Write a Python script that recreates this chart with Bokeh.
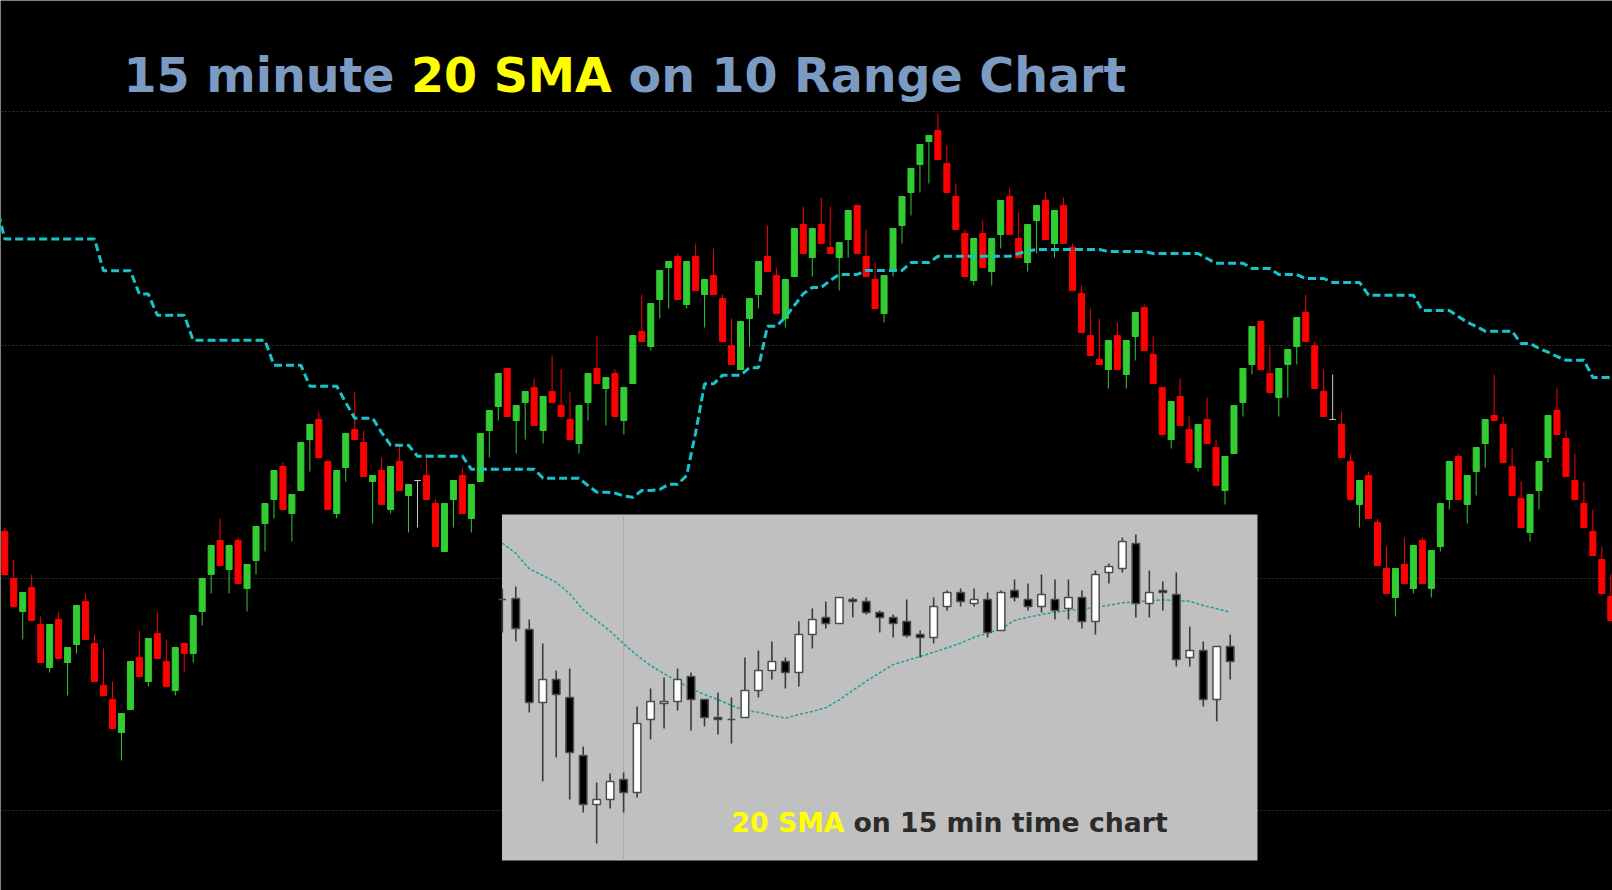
import numpy as np
from bokeh.plotting import figure
from bokeh.models import Range1d, Grid, FixedTicker, ColumnDataSource
from bokeh.core.properties import value
from bokeh.embed import file_html
from bokeh.resources import INLINE

# ---------------- main 10-range chart (bar index 0..179) ----------------
main_open = [
    469, 422, 389, 413, 376, 333, 381, 338, 356, 399,
    357, 315, 301, 268, 291, 343, 319, 367, 339, 310,
    357, 347, 389, 426, 460, 431, 460, 412, 440, 477,
    501, 534, 487, 510, 561, 581, 539, 487, 533, 571,
    558, 519, 530, 491, 539, 505, 520, 525, 497, 449,
    501, 525, 482, 519, 570, 594, 632, 580, 598, 613,
    570, 609, 595, 581, 557, 598, 632, 612, 627, 580,
    617, 669, 654, 701, 733, 744, 696, 744, 706, 725,
    702, 655, 631, 682, 706, 744, 725, 682, 724, 776,
    743, 776, 753, 743, 761, 795, 744, 721, 687, 729,
    775, 808, 836, 859, 870, 837, 804, 767, 720, 767,
    729, 766, 804, 762, 738, 780, 800, 757, 795, 753,
    707, 665, 641, 631, 665, 626, 664, 693, 646, 613,
    561, 604, 571, 533, 581, 553, 510, 547, 598, 636,
    679, 627, 603, 636, 654, 688, 655, 609, 581, 576,
    539, 496, 525, 478, 432, 403, 436, 412, 460, 412,
    454, 501, 544, 496, 529, 557, 585, 576, 534, 502,
    468, 510, 543, 590, 562, 520, 497, 469, 441, 404,
]
main_high = [
    473, 440, 408, 426, 384, 376, 389, 353, 395, 407,
    366, 352, 319, 287, 339, 370, 362, 389, 361, 353,
    357, 385, 422, 455, 482, 455, 463, 436, 474, 497,
    530, 538, 506, 558, 576, 589, 539, 530, 567, 608,
    570, 525, 543, 534, 556, 516, 520, 547, 501, 497,
    520, 533, 516, 567, 590, 627, 632, 595, 609, 622,
    604, 645, 631, 608, 595, 627, 664, 623, 631, 613,
    665, 706, 697, 730, 739, 747, 739, 757, 721, 752,
    706, 682, 679, 702, 739, 775, 733, 721, 772, 794,
    772, 803, 794, 758, 790, 795, 771, 738, 725, 772,
    804, 832, 856, 865, 887, 855, 817, 771, 762, 780,
    762, 800, 813, 789, 776, 795, 808, 790, 803, 757,
    715, 692, 682, 660, 678, 660, 688, 696, 664, 613,
    599, 622, 584, 576, 603, 561, 544, 595, 632, 674,
    679, 654, 632, 651, 683, 706, 659, 631, 626, 589,
    547, 520, 529, 482, 454, 432, 463, 455, 463, 450,
    497, 539, 547, 525, 553, 581, 626, 584, 552, 519,
    506, 539, 585, 612, 570, 547, 519, 491, 454, 426,
]
main_low = [
    426, 394, 361, 380, 338, 328, 342, 305, 347, 361,
    319, 305, 272, 240, 291, 324, 314, 342, 314, 305,
    328, 338, 375, 407, 435, 407, 417, 389, 426, 449,
    482, 491, 459, 510, 529, 543, 491, 482, 519, 561,
    524, 477, 496, 487, 510, 468, 473, 501, 454, 449,
    473, 487, 468, 519, 543, 580, 584, 547, 561, 575,
    557, 598, 584, 561, 547, 580, 617, 575, 584, 566,
    617, 659, 650, 682, 692, 701, 692, 710, 673, 706,
    659, 636, 631, 654, 692, 729, 687, 673, 724, 747,
    724, 757, 747, 710, 743, 747, 724, 692, 678, 724,
    757, 785, 808, 817, 841, 808, 771, 724, 715, 733,
    715, 752, 766, 743, 729, 747, 761, 743, 757, 710,
    668, 645, 636, 612, 631, 612, 640, 650, 617, 566,
    552, 575, 538, 529, 557, 515, 496, 547, 584, 626,
    631, 608, 584, 603, 636, 659, 612, 584, 581, 543,
    501, 473, 482, 435, 407, 384, 417, 407, 417, 403,
    449, 491, 501, 477, 505, 533, 580, 538, 505, 473,
    459, 491, 538, 566, 524, 501, 473, 445, 407, 380,
]
main_close = [
    426, 394, 408, 380, 338, 376, 342, 353, 395, 361,
    319, 305, 272, 287, 339, 324, 362, 342, 314, 353,
    347, 385, 422, 455, 435, 455, 417, 436, 474, 497,
    530, 491, 506, 558, 576, 543, 491, 530, 567, 561,
    524, 525, 496, 534, 510, 516, 520, 501, 454, 497,
    520, 487, 516, 567, 590, 627, 584, 595, 609, 575,
    604, 598, 584, 561, 595, 627, 617, 623, 584, 613,
    665, 659, 697, 730, 739, 701, 739, 710, 721, 706,
    659, 636, 679, 702, 739, 729, 687, 721, 772, 747,
    772, 757, 747, 758, 790, 747, 724, 692, 725, 772,
    804, 832, 856, 865, 841, 808, 771, 724, 762, 733,
    762, 800, 766, 743, 776, 795, 761, 790, 757, 710,
    668, 645, 636, 660, 631, 660, 688, 650, 617, 566,
    599, 575, 538, 576, 557, 515, 544, 595, 632, 674,
    631, 608, 632, 651, 683, 659, 612, 584, 581, 543,
    501, 520, 482, 435, 407, 432, 417, 455, 417, 450,
    497, 539, 501, 525, 553, 581, 580, 538, 505, 473,
    506, 539, 585, 566, 524, 501, 473, 445, 407, 380,
]
# 15-minute 20 SMA projected on the range bars, from bar -1 to bar 179
sma_first_bar = -1
sma20 = [
    798,
    761.5, 761.5, 761.5, 761.5, 761.5, 761.5, 761.5, 761.5, 761.5, 761.5, 761.5,
    729.7, 729.7, 729.7, 729.7,
    706.4, 706.4,
    685.3, 685.3, 685.3, 685.3,
    660.2, 660.2, 660.2, 660.2, 660.2, 660.2, 660.2, 660.2, 660.2,
    635.3, 635.3, 635.3, 635.3,
    614.3, 614.3, 614.3, 614.3,
    598,
    582.3, 582.3, 582.3,
    568,
    555.3, 555.3, 555.3,
    544.3, 544.3, 544.3, 544.3, 544.3, 544.3,
    531.3, 531.3, 531.3, 531.3, 531.3, 531.3, 531.3, 531.3,
    522.3, 522.3, 522.3, 522.3, 522.3,
    515,
    508.3, 508.3,
    507.5, 504.5, 503.3,
    510, 510,
    511,
    516.3, 516.3,
    525, 568,
    616.7, 616.7,
    625.3, 625.3, 625.3,
    632.7, 632.7,
    674.3, 674.3,
    683.3, 695, 706.7,
    713, 713,
    720,
    726, 726, 726,
    730, 730, 730, 730, 730,
    738, 738, 738,
    744.3, 744.3, 744.3, 744.3, 744.3, 744.3, 744.3, 744.3, 744.3,
    747, 749.5,
    751, 751, 751, 751, 751, 751, 751, 751,
    749, 749, 749, 749, 749,
    747, 747, 747, 747, 747, 747,
    742,
    737.3, 737.3, 737.3, 737.3,
    732, 732, 732,
    726, 726, 726,
    722, 722, 722,
    718, 718, 718, 718,
    705.3, 705.3, 705.3, 705.3, 705.3, 705.3,
    690, 690, 690, 690,
    684, 678.3, 674,
    669.3, 669.3, 669.3, 669.3,
    657, 657,
    652, 648.3, 644,
    640.3, 640.3, 640.3,
    623, 623, 623,
]
grid_levels = [190, 422, 655, 889]

# ---------------- inset: 15 min time chart (bar index 0..54) ----------------
inset_open = [
    401, 402, 371, 298, 321, 303, 245, 196, 201, 221,
    208, 281, 297, 299, 324, 301, 283, 281, 283, 310,
    330, 339, 328, 366, 383, 377, 401, 399, 388, 383,
    379, 366, 363, 394, 408, 397, 401, 370, 410, 401,
    394, 401, 392, 403, 379, 428, 432, 457, 397, 410,
    406, 343, 350, 301, 354,
]
inset_high = [
    412, 414, 381, 357, 330, 332, 254, 218, 227, 228,
    294, 312, 323, 332, 328, 301, 308, 303, 343, 350,
    359, 343, 379, 392, 399, 403, 403, 403, 390, 386,
    401, 370, 403, 410, 412, 412, 408, 410, 421, 417,
    426, 421, 421, 410, 430, 437, 463, 466, 430, 419,
    428, 374, 359, 354, 366,
]
inset_low = [
    368, 359, 288, 219, 243, 201, 188, 157, 192, 188,
    203, 261, 272, 290, 270, 274, 266, 257, 283, 303,
    321, 312, 314, 352, 372, 377, 383, 386, 368, 363,
    363, 343, 357, 390, 394, 394, 363, 370, 399, 390,
    388, 381, 381, 372, 366, 417, 428, 383, 383, 390,
    334, 334, 294, 279, 321,
]
inset_close = [
    401, 372, 298, 321, 306, 248, 196, 201, 219, 208,
    277, 299, 299, 321, 301, 283, 281, 281, 310, 330,
    339, 328, 366, 381, 377, 403, 399, 388, 383, 377,
    365, 363, 394, 408, 399, 401, 368, 408, 403, 394,
    406, 390, 403, 379, 426, 434, 459, 397, 408, 408,
    341, 350, 301, 354, 339,
]
inset_sma20 = [
    457.3, 447.3, 431.7, 425, 418.3, 406.7, 390.7, 380, 369.3, 356.7,
    345, 335, 326.7, 319.3, 311.7, 306, 301, 295, 290, 288.3,
    285, 282.3, 286, 289, 292.7, 300.7, 310, 319.3, 327.7, 336,
    340, 344, 348.3, 352.7, 357.3, 363.3, 367.3, 371.7, 380, 383.3,
    386, 388.3, 390, 391.3, 393.3, 395.3, 397.7, 398.7, 399.7, 400.7,
    400, 399.3, 395, 391.7, 388.3,
]
inset_session_bar = 9

title_parts = ["15 minute", "20 SMA", "on 10 Range Chart"]
inset_parts = ["20 SMA", "on 15 min time chart"]

# ---------------- figure ----------------
W, H = 1612, 890
p = figure(
    width=W, height=H,
    x_range=Range1d(-0.479, 179.19),
    y_range=Range1d(110, 1000),
    x_axis_location=None, y_axis_location=None,
    toolbar_location=None, output_backend="svg",
    background_fill_color="black", border_fill_color="black",
    outline_line_color=None, min_border=0,
)
p.extra_x_ranges = {"px": Range1d(0, W), "ix": Range1d(-37.226, 82.36)}
p.extra_y_ranges = {"py": Range1d(H, 0)}
p.grid.visible = False
p.add_layout(Grid(dimension=1, ticker=FixedTicker(ticks=grid_levels),
                  grid_line_color="#343434", grid_line_dash="2 2", grid_line_width=1))

# main candles
mo = np.array(main_open, float); mc = np.array(main_close, float)
mcol = np.where(mc > mo, "#32cd32", np.where(mc < mo, "#ff0000", "#c8c8c8"))
msrc = ColumnDataSource(dict(
    x=np.arange(len(mo)), high=main_high, low=main_low,
    top=np.maximum(mo, mc), bottom=np.minimum(mo, mc), color=mcol))
p.segment(x0="x", y0="high", x1="x", y1="low", line_color="color", line_width=1, source=msrc)
p.vbar(x="x", width=0.67, top="top", bottom="bottom", fill_color="color",
       line_color="color", line_width=1, source=msrc)

# main SMA
p.line(np.arange(sma_first_bar, sma_first_bar + len(sma20)), sma20,
       line_color="#17c3cd", line_width=3, line_dash="8 4")

# title
title_x = [123, 410.5, 628]
title_colors = ["#7b9bc3", "#ffff00", "#7b9bc3"]
for t, tx, tc in zip(title_parts, title_x, title_colors):
    p.text(x=[tx], y=[75], text=[t], x_range_name="px", y_range_name="py",
           text_font=value("DejaVu Sans"), text_font_style="bold", text_font_size="47.5px",
           text_color=tc, text_baseline="alphabetic", text_align="left")

# inset panel
p.quad(left=[501.5], right=[1257], top=[514], bottom=[860], x_range_name="px",
       y_range_name="py", fill_color="#c0c0c0", line_color=None)
p.segment(x0=[inset_session_bar], x1=[inset_session_bar], y0=[514], y1=[860],
          x_range_name="ix", y_range_name="py", line_color="#a8a8a8", line_width=1)
p.line(np.arange(len(inset_sma20)), inset_sma20, x_range_name="ix",
       line_color="#1f9e9e", line_width=1.5, line_dash="3 2")

io = np.array(inset_open, float); ic = np.array(inset_close, float)
icol = np.where(ic > io, "#ffffff", "#000000")
isrc = ColumnDataSource(dict(
    x=np.arange(len(io)), high=inset_high, low=inset_low,
    top=np.maximum(io, ic), bottom=np.minimum(io, ic), color=icol))
p.segment(x0="x", y0="high", x1="x", y1="low", line_color="#3a3a3a", line_width=1.6,
          source=isrc, x_range_name="ix")
p.vbar(x="x", width=0.56, top="top", bottom="bottom", fill_color="color",
       line_color="#4c4c4c", line_width=1.5, source=isrc, x_range_name="ix")

inset_x = [731, 853]
inset_colors = ["#ffff00", "#2b2b2b"]
for t, tx, tc in zip(inset_parts, inset_x, inset_colors):
    p.text(x=[tx], y=[821.5], text=[t], x_range_name="px", y_range_name="py",
           text_font=value("DejaVu Sans"), text_font_style="bold", text_font_size="26.7px",
           text_color=tc, text_baseline="alphabetic", text_align="left")

open("out.html", "w").write(file_html(p, INLINE))
